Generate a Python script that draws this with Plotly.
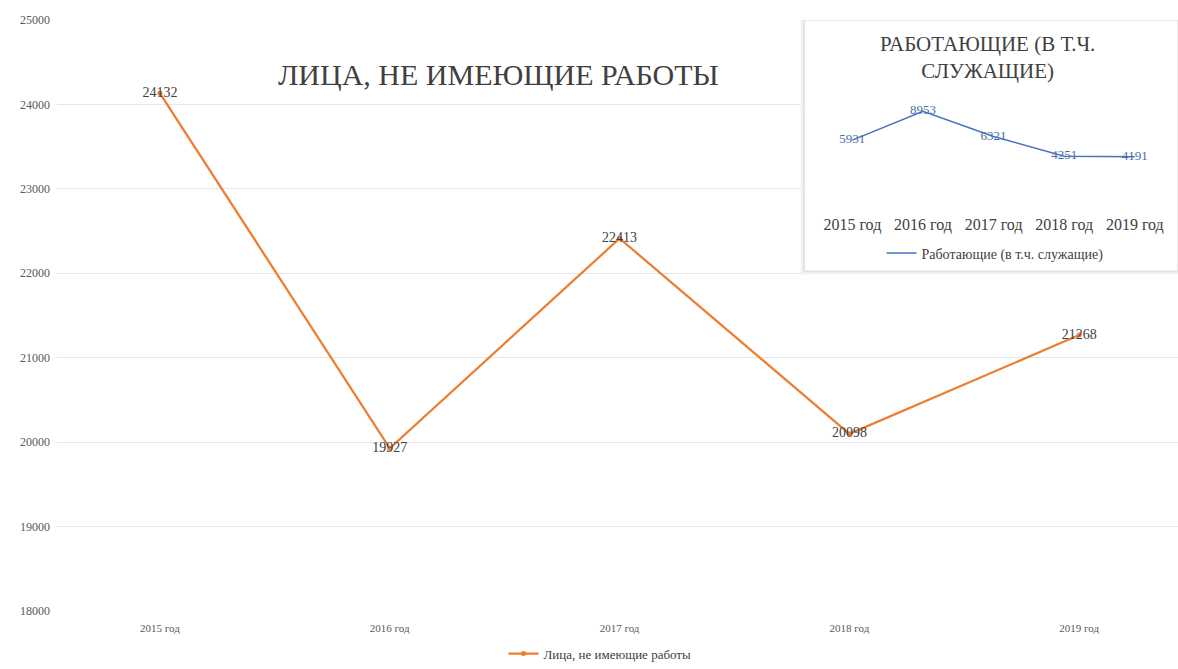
import plotly.graph_objects as go

# Категории и значения
years = ["2015 год", "2016 год", "2017 год", "2018 год", "2019 год"]
unemployed = [24132, 19927, 22413, 20098, 21268]
employed = [5931, 8953, 6321, 4251, 4191]

main_name = "Лица, не имеющие работы"
inset_name = "Работающие (в т.ч. служащие)"
main_title = "ЛИЦА, НЕ ИМЕЮЩИЕ РАБОТЫ"
inset_title = "РАБОТАЮЩИЕ (В Т.Ч.<br>СЛУЖАЩИЕ)"

SERIF = "Liberation Serif, Times New Roman, serif"
ORANGE = "#ED7D31"
BLUE = "#4472C4"

X_RANGE = [-0.448, 4.43]
Y_RANGE = [18000, 25000]


def dom_to_x(f):
    return X_RANGE[0] + f * (X_RANGE[1] - X_RANGE[0])


def dom_to_y(f):
    return Y_RANGE[0] + f * (Y_RANGE[1] - Y_RANGE[0])


fig = go.Figure()

# Основной ряд
fig.add_trace(go.Scatter(
    x=years, y=unemployed, name=main_name,
    mode="lines+markers+text",
    line=dict(color=ORANGE, width=2.25),
    marker=dict(color=ORANGE, size=5),
    text=[str(v) for v in unemployed],
    textposition="middle center",
    textfont=dict(family=SERIF, size=14, color="#404040"),
    xaxis="x", yaxis="y", legend="legend",
))

# Врезка: работающие
fig.add_trace(go.Scatter(
    x=years, y=employed, name=inset_name,
    mode="lines+text",
    line=dict(color=BLUE, width=1.5),
    text=[str(v) for v in employed],
    textposition="middle center",
    textfont=dict(family=SERIF, size=13, color="#4a6fa5"),
    xaxis="x2", yaxis="y2", legend="legend2",
))

fig.update_layout(
    width=1178, height=669,
    margin=dict(l=57, r=0, t=20, b=52),
    paper_bgcolor="white", plot_bgcolor="white",
    font=dict(family=SERIF, color="#595959"),
    xaxis=dict(
        domain=[0, 1], range=X_RANGE,
        showgrid=False, showline=False, zeroline=False,
        tickfont=dict(size=11, color="#595959"),
        ticks="", ticklabelstandoff=9,
    ),
    yaxis=dict(
        domain=[0, 1], range=Y_RANGE, dtick=1000, tickformat="d",
        showgrid=True, gridcolor="#e6e6e6", gridwidth=1,
        zeroline=False, showline=False,
        tickfont=dict(size=12, color="#595959"),
        ticklabelstandoff=6,
    ),
    xaxis2=dict(
        domain=[0.678, 0.993], anchor="y2", range=[-0.5, 4.5],
        showgrid=False, showline=False, zeroline=False,
        tickfont=dict(size=16, color="#404040"), ticks="",
    ),
    yaxis2=dict(
        domain=[0.673, 0.8626], anchor="x2", range=[-1708, 10000],
        visible=False,
    ),
    legend=dict(
        orientation="h", x=(600 - 57) / 1121, y=-0.072,
        xanchor="center", yanchor="middle", itemwidth=30,
        font=dict(size=13, color="#404040"), bgcolor="rgba(0,0,0,0)",
    ),
    legend2=dict(
        orientation="h", x=(995 - 57) / 1121, y=0.605,
        xanchor="center", yanchor="middle", itemwidth=30,
        font=dict(size=14, color="#404040"), bgcolor="rgba(0,0,0,0)",
    ),
    showlegend=True,
)

# Подложка врезки: лёгкая тень и белая панель поверх сетки
fig.add_shape(type="rect", xref="x", yref="y",
              x0=dom_to_x(0.6635), x1=dom_to_x(1.0),
              y0=dom_to_y(0.570), y1=dom_to_y(1.0),
              fillcolor="#f0f0f0", line=dict(width=0), layer="between")
fig.add_shape(type="rect", xref="x", yref="y",
              x0=dom_to_x(0.6665), x1=dom_to_x(1.0),
              y0=dom_to_y(0.575), y1=dom_to_y(1.0),
              fillcolor="white", line=dict(color="#d6d6d6", width=1), layer="between")

# Заголовки
fig.add_annotation(text=main_title, xref="paper", yref="paper",
                   x=(498 - 57) / 1121, y=(617 - 75) / 597,
                   showarrow=False, xanchor="center", yanchor="middle",
                   font=dict(family=SERIF, size=30, color="#404040"))
fig.add_annotation(text=inset_title, xref="paper", yref="paper",
                   x=(987 - 57) / 1121, y=(617 - 58) / 597,
                   showarrow=False, xanchor="center", yanchor="middle",
                   font=dict(family=SERIF, size=21, color="#404040"))

fig.write_html("out.html")
